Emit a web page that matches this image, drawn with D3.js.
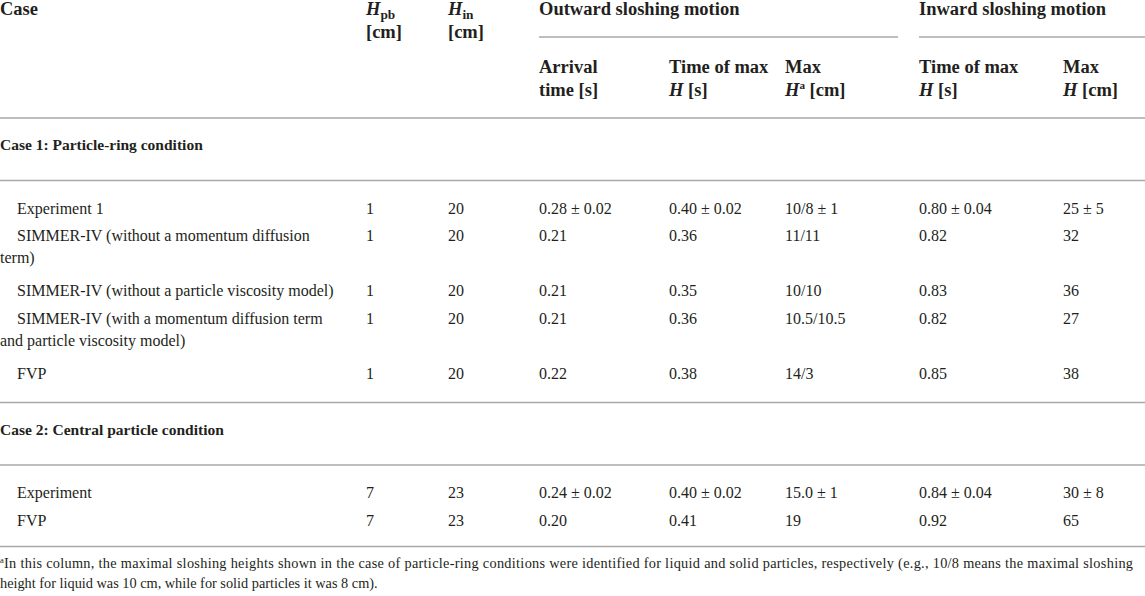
<!DOCTYPE html>
<html>
<head>
<meta charset="utf-8">
<script src="https://cdn.jsdelivr.net/npm/d3@7"></script>
<style>
  body { margin: 0; background: #fff; }
  svg { display: block; font-family: "Liberation Serif", "Times New Roman", serif; }
  .rule { stroke: #a8a8a8; stroke-width: 1.5; }
  text { fill: #231f20; }
</style>
</head>
<body>
<div id="table-div"></div>
<script>
// Table contents
const groupLabels = ["Case 1: Particle-ring condition", "Case 2: Central particle condition"];
const caseGroup = [0, 0, 0, 0, 0, 1, 1];
const caseNames = [
  "Experiment 1",
  "SIMMER-IV (without a momentum diffusion\nterm)",
  "SIMMER-IV (without a particle viscosity model)",
  "SIMMER-IV (with a momentum diffusion term\nand particle viscosity model)",
  "FVP",
  "Experiment",
  "FVP"
];
const hpb = [1, 1, 1, 1, 1, 7, 7];
const hin = [20, 20, 20, 20, 20, 23, 23];
const arrivalTime = ["0.28 ± 0.02", "0.21", "0.21", "0.21", "0.22", "0.24 ± 0.02", "0.20"];
const outTimeMax = ["0.40 ± 0.02", "0.36", "0.35", "0.36", "0.38", "0.40 ± 0.02", "0.41"];
const outMaxH = ["10/8 ± 1", "11/11", "10/10", "10.5/10.5", "14/3", "15.0 ± 1", "19"];
const inTimeMax = ["0.80 ± 0.04", "0.82", "0.83", "0.82", "0.85", "0.84 ± 0.04", "0.92"];
const inMaxH = ["25 ± 5", "32", "36", "27", "38", "30 ± 8", "65"];

// Header pieces: [text, style] where style i = italic, s = subscript, p = superscript
const headerTop = ["Outward sloshing motion", "Inward sloshing motion"];
const columnKeys = ["case", "hpb", "hin", "arrival", "outT", "outH", "inT", "inH"];
const columnHeaders = [
  [[["Case", ""]]],
  [[["H", "i"], ["pb", "s"]], [["[cm]", ""]]],
  [[["H", "i"], ["in", "s"]], [["[cm]", ""]]],
  [[["Arrival", ""]], [["time [s]", ""]]],
  [[["Time of max", ""]], [["H", "i"], [" [s]", ""]]],
  [[["Max", ""]], [["H", "i"], ["a", "p"], [" [cm]", ""]]],
  [[["Time of max", ""]], [["H", "i"], [" [s]", ""]]],
  [[["Max", ""]], [["H", "i"], [" [cm]", ""]]]
];
const footnote = [
  "In this column, the maximal sloshing heights shown in the case of particle-ring conditions were identified for liquid and solid particles, respectively (e.g., 10/8 means the maximal sloshing",
  "height for liquid was 10 cm, while for solid particles it was 8 cm)."
];

const WIDTH = 1145;
const HEIGHT = 596;

const svg = d3.select("#table-div")
  .append("svg")
  .attr("width", WIDTH)
  .attr("height", HEIGHT);

// Column left edges
const x = d3.scaleOrdinal()
  .domain(columnKeys)
  .range([0, 366, 448, 539, 669, 785, 919, 1063]);

// Rich text helper for header cells
function richText(sel, parts, size) {
  let shift = 0;
  parts.forEach(([t, st]) => {
    const ts = sel.append("tspan").text(t);
    let next = 0;
    if (st === "i") ts.style("font-style", "italic");
    if (st === "s") { ts.attr("font-size", size * 0.72); next = 4; }
    if (st === "p") { ts.attr("font-size", size * 0.6); next = -7; }
    // move to the new baseline, undoing the last shift
    if (next - shift !== 0) ts.attr("dy", next - shift);
    shift = next;
  });
}

// Header
const HEAD_SIZE = 18.5;
const headG = svg.append("g").attr("font-weight", "bold").attr("font-size", HEAD_SIZE);

columnHeaders.forEach((lines, ci) => {
  const key = columnKeys[ci];
  // grouped columns sit in the second header row
  const y0 = ci >= 3 ? 73 : 15;
  lines.forEach((parts, li) => {
    const t = headG.append("text")
      .attr("x", x(key))
      .attr("y", y0 + li * 23);
    richText(t, parts, HEAD_SIZE);
  });
});

const spans = [["arrival", 898], ["inT", WIDTH]];
headerTop.forEach((label, i) => {
  headG.append("text")
    .attr("x", x(spans[i][0]))
    .attr("y", 15)
    .text(label);
  svg.append("line")
    .attr("class", "rule")
    .attr("x1", x(spans[i][0]))
    .attr("x2", spans[i][1])
    .attr("y1", 37)
    .attr("y2", 37);
});

// Body layout
const BODY_SIZE = 16;
const rows = caseNames.map((name, i) => ({
  group: caseGroup[i],
  lines: name.split("\n"),
  cells: [hpb[i], hin[i], arrivalTime[i], outTimeMax[i], outMaxH[i], inTimeMax[i], inMaxH[i]]
}));

const rules = [118];
let cursor = 118;
let lastGroup = -1;
const placed = [];
rows.forEach((r, i) => {
  if (r.group !== lastGroup) {
    if (lastGroup !== -1) {
      cursor += 29;
      rules.push(cursor);
    }
    placed.push({ label: groupLabels[r.group], y: cursor + 27 });
    cursor += 62.5;
    rules.push(cursor);
    cursor += 28;
    lastGroup = r.group;
  } else {
    cursor += 27.5 * rows[i - 1].lines.length;
  }
  r.y = cursor;
});
cursor += 26;
rules.push(cursor);

svg.selectAll(".hrule")
  .data(rules)
  .enter()
  .append("line")
  .attr("class", "rule")
  .attr("x1", 0)
  .attr("x2", WIDTH)
  .attr("y1", d => d)
  .attr("y2", d => d);

// Group labels
svg.selectAll(".group-label")
  .data(placed)
  .enter()
  .append("text")
  .attr("class", "group-label")
  .attr("x", x("case"))
  .attr("y", d => d.y + 5)
  .attr("font-weight", "bold")
  .attr("font-size", 15.5)
  .text(d => d.label);

// Rows
const rowG = svg.selectAll(".row")
  .data(rows)
  .enter()
  .append("g")
  .attr("class", "row")
  .attr("font-size", BODY_SIZE);

rowG.each(function (r) {
  const g = d3.select(this);
  r.lines.forEach((line, li) => {
    g.append("text")
      .attr("x", x("case") + (li === 0 ? 17 : 0))
      .attr("y", r.y + 5 + li * 22)
      .text(line);
  });
  r.cells.forEach((v, ci) => {
    g.append("text")
      .attr("x", x(columnKeys[ci + 1]))
      .attr("y", r.y + 5)
      .text(v);
  });
});

// Footnote
const fnY = cursor + 16;
const fn = svg.append("g").attr("font-size", 14.3);
const first = fn.append("text")
  .attr("x", 0)
  .attr("y", fnY + 5)
  .attr("textLength", 1133)
  .attr("lengthAdjust", "spacing");
first.append("tspan").attr("font-size", 8.5).attr("dy", -5).text("a");
first.append("tspan").attr("dy", 5).text(footnote[0]);
fn.append("text")
  .attr("x", 0)
  .attr("y", fnY + 25)
  .text(footnote[1]);
</script>
</body>
</html>
